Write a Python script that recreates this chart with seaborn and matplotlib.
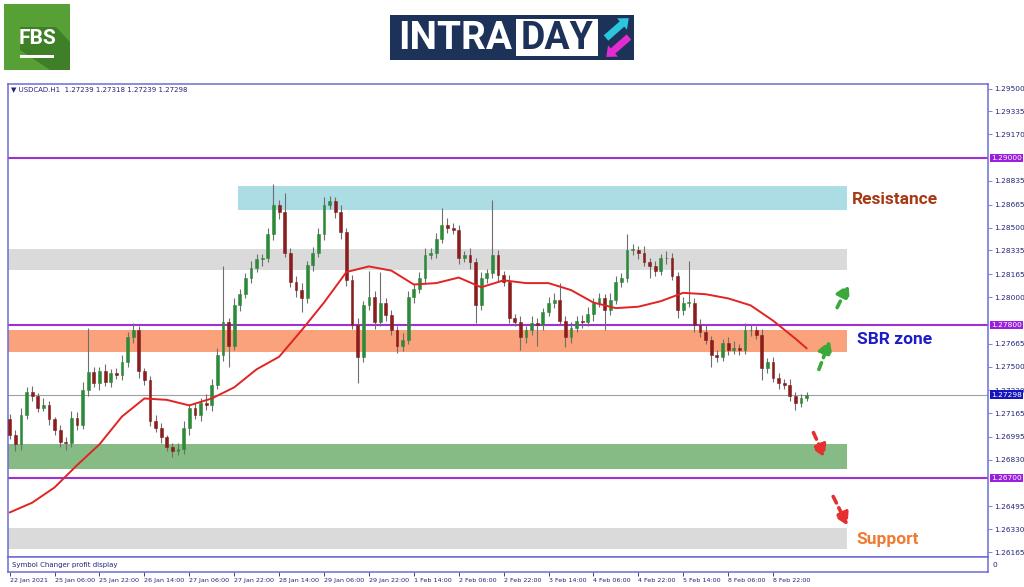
import numpy as np
import pandas as pd
import matplotlib
matplotlib.use("Agg")
import matplotlib.pyplot as plt
import matplotlib.transforms as mtransforms
from matplotlib.patches import Rectangle, Polygon, FancyArrow
import seaborn as sns

# --- data (2-hour bars, USDCAD) ---
closes = [
    1.2701, 1.2694, 1.2715, 1.2732, 1.2729, 1.2720, 1.2722, 1.2712, 1.2704, 1.2696,
    1.2695, 1.2713, 1.2708, 1.2733, 1.2746, 1.2738, 1.2747, 1.2739, 1.2745, 1.2744,
    1.2753, 1.2771, 1.2776, 1.2747, 1.2740, 1.2711, 1.2706, 1.2699, 1.2692, 1.2689,
    1.2691, 1.2706, 1.2720, 1.2715, 1.2724, 1.2722, 1.2737, 1.2758, 1.2782, 1.2765,
    1.2794, 1.2802, 1.2814, 1.2821, 1.2827, 1.2828, 1.2845, 1.2866, 1.2861, 1.2832,
    1.2811, 1.2805, 1.2799, 1.2823, 1.2832, 1.2845, 1.2866, 1.2869, 1.2861, 1.2847,
    1.2812, 1.2780, 1.2757, 1.2794, 1.2800, 1.2782, 1.2796, 1.2787, 1.2776, 1.2765,
    1.2769, 1.2800, 1.2806, 1.2814, 1.2830, 1.2832, 1.2842, 1.2852, 1.2850, 1.2848,
    1.2828, 1.2830, 1.2825, 1.2794, 1.2814, 1.2817, 1.2830, 1.2816, 1.2811, 1.2785,
    1.2782, 1.2771, 1.2776, 1.2781, 1.2780, 1.2789, 1.2796, 1.2798, 1.2783, 1.2771,
    1.2778, 1.2783, 1.2782, 1.2788, 1.2796, 1.2799, 1.2791, 1.2798, 1.2811, 1.2814,
    1.2834, 1.2834, 1.2832, 1.2825, 1.2822, 1.2819, 1.2828, 1.2828, 1.2815, 1.2791,
    1.2796, 1.2796, 1.2780, 1.2775, 1.2769, 1.2758, 1.2757, 1.2767, 1.2762, 1.2763,
    1.2762, 1.2776, 1.2776, 1.2773, 1.2749, 1.2753, 1.2742, 1.2738, 1.2737, 1.2729,
    1.2724, 1.2727, 1.27298,
]
first_open = 1.2712

# wick lengths in pips above / below the body
upper_wick = [
    4, 3, 5, 3, 4, 2, 5, 3, 2, 4,
    3, 5, 4, 6, 32, 4, 3, 5, 3, 4,
    5, 4, 5, 3, 2, 3, 4, 3, 2, 3,
    4, 5, 3, 4, 3, 6, 4, 5, 40, 3,
    5, 4, 3, 5, 4, 3, 5, 15, 4, 14,
    3, 4, 5, 3, 4, 5, 6, 4, 3, 5,
    3, 4, 5, 3, 19, 4, 22, 3, 4, 3,
    5, 4, 3, 4, 5, 3, 4, 12, 5, 3,
    4, 3, 5, 3, 4, 3, 40, 4, 3, 5,
    3, 4, 3, 5, 4, 3, 4, 5, 12, 3,
    4, 3, 4, 5, 3, 4, 3, 5, 4, 3,
    11, 4, 3, 5, 3, 4, 3, 5, 4, 3,
    4, 30, 3, 4, 5, 3, 4, 3, 4, 5,
    3, 5, 4, 3, 4, 3, 4, 3, 3, 4,
    3, 3, 2,
]
lower_wick = [
    3, 5, 4, 3, 4, 3, 2, 4, 3, 4,
    5, 3, 4, 3, 4, 3, 5, 3, 4, 3,
    4, 3, 4, 5, 3, 4, 3, 4, 3, 4,
    3, 4, 5, 3, 4, 3, 4, 3, 4, 15,
    3, 4, 3, 4, 3, 5, 3, 4, 5, 3,
    4, 5, 10, 3, 4, 3, 4, 3, 4, 5,
    4, 3, 19, 4, 3, 5, 3, 4, 3, 5,
    4, 3, 4, 3, 5, 3, 4, 3, 4, 3,
    4, 3, 5, 13, 3, 4, 3, 5, 3, 4,
    3, 9, 4, 3, 15, 4, 3, 4, 3, 7,
    4, 3, 4, 3, 5, 3, 15, 4, 3, 4,
    3, 4, 5, 3, 8, 4, 3, 4, 3, 6,
    4, 3, 5, 4, 3, 8, 4, 3, 4, 3,
    4, 3, 4, 3, 9, 4, 3, 4, 3, 4,
    5, 3, 2,
]

# moving average (red line), sampled every 4 bars
ma_bar = list(range(0, 141, 4)) + [142]
ma_value = [
    1.2645, 1.2652, 1.2663, 1.2679, 1.2694, 1.2714, 1.2727, 1.2726, 1.2722, 1.2727,
    1.2735, 1.2748, 1.2757, 1.2776, 1.2796, 1.2818, 1.2822, 1.2819, 1.2809, 1.2810,
    1.2814, 1.2807, 1.2812, 1.2810, 1.2810, 1.2805, 1.2796, 1.2792, 1.2793, 1.2797,
    1.2803, 1.2802, 1.2799, 1.2794, 1.2783, 1.2770, 1.2763,
]

date_labels = ["22 Jan 2021", "25 Jan 06:00", "25 Jan 22:00", "26 Jan 14:00", "27 Jan 06:00",
               "27 Jan 22:00", "28 Jan 14:00", "29 Jan 06:00", "29 Jan 22:00", "1 Feb 14:00",
               "2 Feb 06:00", "2 Feb 22:00", "3 Feb 14:00", "4 Feb 06:00", "4 Feb 22:00",
               "5 Feb 14:00", "8 Feb 06:00", "8 Feb 22:00"]
price_ticks = [1.29500, 1.29335, 1.29170, 1.28835, 1.28665, 1.28500, 1.28335, 1.28165,
               1.28000, 1.27665, 1.27500, 1.27330, 1.27165, 1.26995, 1.26830, 1.26495,
               1.26330, 1.26165]
levels = [1.29000, 1.27800, 1.26700]
last_price = 1.27298

# zones: (left bar, low, high, colour)
zones = [(40.7, 1.28626, 1.28799, "#acdce4"),
         (-0.3, 1.28194, 1.28345, "#dadada"),
         (-0.3, 1.27604, 1.27763, "#f9a27c"),
         (-0.3, 1.26763, 1.26942, "#86bb86"),
         (-0.3, 1.26187, 1.26338, "#dadada")]

sns.set_theme(style="white")
plt.rcParams["font.family"] = ["DejaVu Sans"]

frame = "#6c6cd6"
navy = "#23237a"

df = pd.DataFrame({"close": closes})
df["open"] = df["close"].shift(1).fillna(first_open)
df["top"] = df[["open", "close"]].max(axis=1)
df["bot"] = df[["open", "close"]].min(axis=1)
df["high"] = df["top"] + np.array(upper_wick) * 0.0001
df["low"] = df["bot"] - np.array(lower_wick) * 0.0001

fig = plt.figure(figsize=(10.24, 5.87), dpi=100)
ax = fig.add_axes([8 / 1024, 1 - 557 / 587, 980 / 1024, 473 / 587])
ax2 = fig.add_axes([8 / 1024, 1 - 572 / 587, 980 / 1024, 15 / 587])

# --- zones and levels ---
for left, lo, hi, col in zones:
    ax.add_patch(Rectangle((left, lo), 149.2 - left, hi - lo, fc=col, ec="none", zorder=1))
for lv in levels:
    ax.axhline(lv, color="#a22fd2", lw=1.5, zorder=2)
ax.axhline(last_price, color="#a0a0a0", lw=0.8, zorder=2)

# --- candles ---
bull = df["close"] >= df["open"]
colors = np.where(bull, "#2e8a3b", "#8a1d1d")
ax.vlines(df.index, df["low"], df["high"], color="#6e6e6e", lw=0.8, zorder=3)
ax.bar(df.index, (df["top"] - df["bot"]).clip(lower=0.00004), bottom=df["bot"],
       width=0.5, color=colors, edgecolor=colors, lw=0.4, zorder=4)

sns.lineplot(x=ma_bar, y=ma_value, ax=ax, color="#e02424", lw=1.4, zorder=5)

# --- arrows ---
arrows = [((144.0, 1.27460), (146.3, 1.27705), "#3aa83a"),
          ((147.2, 1.27906), (149.7, 1.28108), "#3aa83a"),
          ((143.0, 1.27043), (145.4, 1.26827), "#e53030"),
          ((146.5, 1.26583), (149.5, 1.26338), "#e53030")]
for tail, head, col in arrows:
    ax.annotate("", xy=head, xytext=tail,
                arrowprops=dict(arrowstyle="-|>,head_width=0.35,head_length=0.6",
                                color=col, lw=2.6, linestyle=(0, (2, 1.5))), zorder=6)

ax.text(150.1, 1.28705, "Resistance", family="Roboto", weight="bold", fontsize=12.5,
        color="#a63a14", va="center", ha="left")
ax.text(150.9, 1.27691, "SBR zone", family="Roboto", weight="bold", fontsize=12.5,
        color="#1c1cc8", va="center", ha="left")
ax.text(150.9, 1.26252, "Support", family="Roboto", weight="bold", fontsize=12.5,
        color="#f07a32", va="center", ha="left")

ax.text(0.003, 0.995, "\u25BC USDCAD.H1  1.27239 1.27318 1.27239 1.27298", transform=ax.transAxes,
        fontsize=5, color=navy, va="top", ha="left")

# --- axes styling ---
ax.set_xlim(-0.3, 174.3)
ax.set_ylim(1.261295, 1.295324)
ax.set_xticks([])
ax.yaxis.tick_right()
ax.set_yticks(price_ticks)
ax.set_yticklabels([f"{v:.5f}" for v in price_ticks])
ax.tick_params(axis="y", length=3, width=0.6, color=frame, labelsize=5.3,
               labelcolor=navy, pad=1.5, right=True)
ax.set_xlabel("")
ax.set_ylabel("")
for sp in ax.spines.values():
    sp.set_color(frame)
    sp.set_linewidth(1.1)

trans = mtransforms.blended_transform_factory(ax.transAxes, ax.transData)
for lv in levels:
    ax.text(1.003, lv, f"{lv:.5f}", transform=trans, fontsize=5.3, color="white",
            va="center", ha="left", clip_on=False, zorder=10,
            bbox=dict(boxstyle="square,pad=0.15", fc="#9b1fde", ec="none"))
ax.text(1.003, last_price, f"{last_price:.5f}", transform=trans, fontsize=5.3, color="white",
        va="center", ha="left", clip_on=False, zorder=10,
        bbox=dict(boxstyle="square,pad=0.15", fc="#1414c0", ec="none"))

ax2.set_xlim(-0.3, 174.3)
ax2.set_ylim(0, 1)
ax2.set_xticks(list(range(0, 137, 8)))
ax2.set_xticklabels(date_labels)
for lab in ax2.get_xticklabels():
    lab.set_ha("left")
ax2.tick_params(axis="x", length=3, width=0.6, color=navy, labelsize=4.6,
                labelcolor=navy, pad=1, bottom=True)
ax2.yaxis.tick_right()
ax2.set_yticks([0.5])
ax2.set_yticklabels(["0"])
ax2.tick_params(axis="y", length=0, labelsize=5.3, labelcolor=navy, pad=3)
ax2.text(0.004, 0.5, "Symbol Changer profit display", transform=ax2.transAxes,
         fontsize=5, color=navy, va="center", ha="left")
for sp in ax2.spines.values():
    sp.set_color(frame)
    sp.set_linewidth(1.1)

# --- header logos (pixel coords) ---
bg = fig.add_axes([0, 0, 1, 1])
bg.set_xlim(0, 1024)
bg.set_ylim(587, 0)
bg.axis("off")
bg.patch.set_alpha(0)

bg.add_patch(Rectangle((4, 4), 66, 66, fc="#57a036", ec="none"))
bg.add_patch(Polygon([(20, 27), (56, 27), (70, 42), (70, 70), (50, 70), (20, 50)],
                     fc="#3f7f27", ec="none"))
bg.text(37, 38, "FBS", family="Roboto", weight="bold", fontsize=15, color="white",
        ha="center", va="center")
bg.add_patch(Rectangle((20, 55), 34, 3, fc="white", ec="none"))

bg.add_patch(Rectangle((390, 15), 244, 45, fc="#1d3258", ec="none"))
bg.text(398, 38.5, "INTRA", family="Roboto", weight="bold", fontsize=28, color="white",
        ha="left", va="center")
bg.add_patch(Rectangle((516, 19), 82, 37, fc="white", ec="none"))
bg.text(557, 38.5, "DAY", family="Roboto", weight="bold", fontsize=27, color="#1d3258",
        ha="center", va="center")
bg.add_patch(FancyArrow(606, 38, 16, -14, width=7, head_width=15, head_length=9,
                        fc="#2bc6db", ec="none"))
bg.add_patch(FancyArrow(629, 37, -16, 14, width=7, head_width=15, head_length=9,
                        fc="#e22bd0", ec="none"))

fig.savefig("out.png", dpi=100, facecolor="white")
